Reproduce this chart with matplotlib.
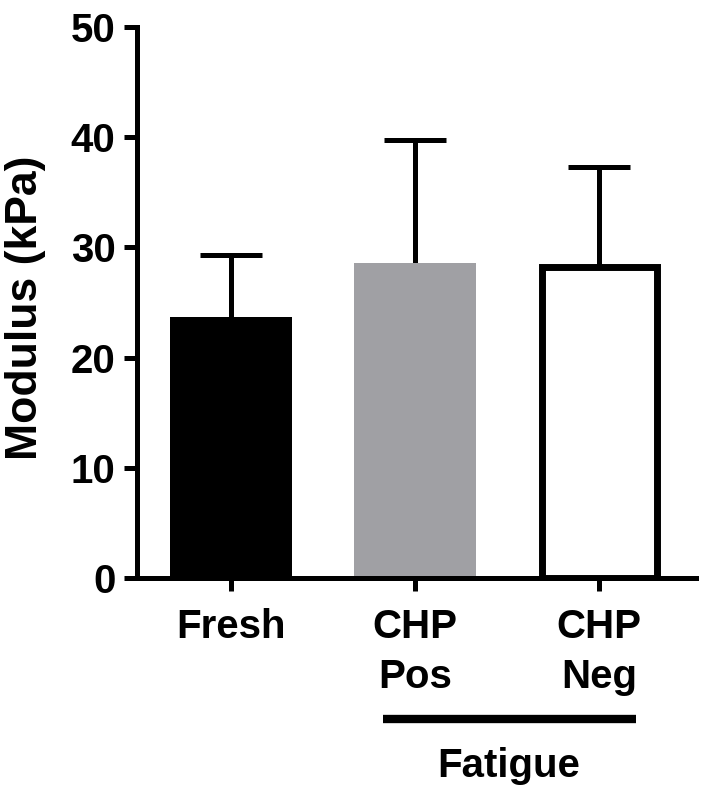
import matplotlib.pyplot as plt

plt.rcParams['font.family'] = ['Liberation Sans', 'DejaVu Sans']
plt.rcParams['font.weight'] = 'bold'

# data
groups = ['Fresh', 'CHP\nPos', 'CHP\nNeg']
means = [23.7, 28.6, 28.2]
sd = [5.6, 11.15, 9.1]

fig = plt.figure(figsize=(7.06, 7.97), dpi=100)
ax = fig.add_axes([0.194, 0.275, 0.792, 0.691])

x = list(range(len(groups)))
face = ['black', '#a0a0a4', 'white']
edge = ['black', '#a0a0a4', 'black']
lw = [0, 0, 5]
widths = [0.663, 0.663, 0.625]

# error bars first (upper only), bars on top
eb = ax.errorbar(x, means, yerr=[[0] * 3, sd], fmt='none', ecolor='black',
                 elinewidth=3.6, capsize=22, capthick=3.6, zorder=1)
eb[1][0].set_visible(False)  # no lower caps
for xi, m, fc, ec, l, w in zip(x, means, face, edge, lw, widths):
    ax.bar(xi, m, width=w, color=fc, edgecolor=ec, linewidth=l, zorder=2)

ax.set_xlim(-0.51, 2.527)
ax.set_ylim(0, 50)
ax.set_yticks([0, 10, 20, 30, 40, 50])
ax.set_xticks(x)
ax.set_xticklabels(groups, linespacing=1.4)

for s in ['top', 'right']:
    ax.spines[s].set_visible(False)
for s in ['left', 'bottom']:
    ax.spines[s].set_linewidth(3.6)
ax.spines['left'].set_bounds(0, 50)

ax.tick_params(axis='both', width=3.6, length=9.4, labelsize=29)
ax.tick_params(axis='y', pad=6)
ax.tick_params(axis='x', pad=12)

ax.set_ylabel('Modulus (kPa)', fontsize=32, fontweight='bold')
ax.yaxis.set_label_coords(-0.163, 0.49)

# "Fatigue" bracket under the CHP groups
ax.plot([0.826, 2.2], [-12.8, -12.8], color='black', lw=6, clip_on=False,
        solid_capstyle='butt')
ax.text(1.51, -18.06, 'Fatigue', ha='center', va='baseline', fontsize=29,
        fontweight='bold')

plt.savefig('out.png', dpi=100)
